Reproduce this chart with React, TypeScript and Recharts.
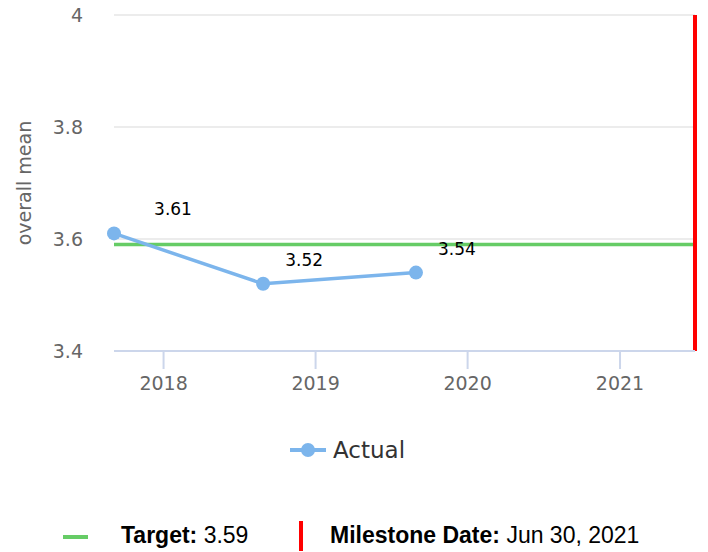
import React from "react";
import { LineChart, Line, XAxis, YAxis, CartesianGrid, ReferenceLine, LabelList, Label } from "recharts";

// chart data
const dates = ["2017-09-04", "2018-08-28", "2019-08-30"];
const actual = [3.61, 3.52, 3.54];
const yTicks = [3.4, 3.6, 3.8, 4];
const tickYears = [2018, 2019, 2020, 2021];
const target = 3.59;
const startDate = "2017-09-04";
const milestoneDate = "2021-06-30";
const milestoneText = "Jun 30, 2021";

const labelDx = [59, 41, 41];

const BLUE = "#7cb5ec";
const GREEN = "#66cc66";
const AXIS = "#ccd6eb";
const CHART_FONT = "'DejaVu Sans', Verdana, sans-serif";

const data = dates.map((d, i) => ({ t: Date.parse(d), actual: actual[i] }));

function PointLabel(props: any) {
  const { x, y, value, index } = props;
  return (
    <text x={x + labelDx[index]} y={y - 18} textAnchor="middle" fontSize={17} fill="#000" fontFamily={CHART_FONT}>
      {value}
    </text>
  );
}

function AxisTitle(props: any) {
  const vb = props.viewBox || { x: 0, y: 15, height: 336 };
  const cx = vb.x + 31;
  const cy = vb.y + vb.height / 2;
  return (
    <text x={cx} y={cy} transform={`rotate(-90 ${cx} ${cy})`} textAnchor="middle" fontSize={19} fill="#666" fontFamily={CHART_FONT}>
      overall mean
    </text>
  );
}

export default function App() {
  return (
    <div style={{ position: "absolute", left: 0, top: 0, width: 708, height: 552, background: "#fff" }}>
      <LineChart width={708} height={420} data={data} margin={{ top: 15, right: 13, left: 0, bottom: 19 }}>
        <CartesianGrid vertical={false} stroke="#e6e6e6" strokeWidth={1.5} />
        <XAxis
          dataKey="t"
          type="number"
          scale="time"
          domain={[Date.parse(startDate), Date.parse(milestoneDate)]}
          ticks={tickYears.map((y) => Date.UTC(y, 0, 1))}
          tickFormatter={(v) => String(new Date(v).getUTCFullYear())}
          height={50}
          tickSize={18}
          tickMargin={8}
          axisLine={{ stroke: AXIS, strokeWidth: 2 }}
          tickLine={{ stroke: AXIS, strokeWidth: 2 }}
          tick={{ fill: "#666", fontSize: 19, fontFamily: CHART_FONT }}
        />
        <YAxis
          domain={[3.4, 4]}
          ticks={yTicks}
          width={114}
          tickSize={0}
          tickMargin={31}
          axisLine={false}
          tickLine={false}
          tick={{ fill: "#666", fontSize: 19, fontFamily: CHART_FONT }}
        >
          <Label content={<AxisTitle />} />
        </YAxis>
        <ReferenceLine y={target} stroke={GREEN} strokeWidth={3.5} />
        <ReferenceLine x={Date.parse(milestoneDate)} stroke="#ff0000" strokeWidth={4} />
        <Line
          dataKey="actual"
          type="linear"
          stroke={BLUE}
          strokeWidth={3.5}
          dot={{ r: 7, fill: BLUE, stroke: BLUE, strokeWidth: 0, clipDot: false }}
          isAnimationActive={false}
        >
          <LabelList dataKey="actual" content={<PointLabel />} />
        </Line>
      </LineChart>

      {/* series legend */}
      <div style={{ position: "absolute", left: 290, top: 436, height: 28, display: "flex", alignItems: "center" }}>
        <svg width={36} height={16}>
          <line x1={0} y1={8} x2={36} y2={8} stroke={BLUE} strokeWidth={4} />
          <circle cx={18} cy={8} r={7} fill={BLUE} />
        </svg>
        <span style={{ marginLeft: 7, fontSize: 23, color: "#333", fontFamily: CHART_FONT }}>Actual</span>
      </div>

      {/* target / milestone legend */}
      <div style={{ position: "absolute", left: 63, top: 535, width: 25, height: 4, background: GREEN }} />
      <div style={{ position: "absolute", left: 121, top: 521, fontSize: 23, lineHeight: "28px", color: "#000", fontFamily: "'Liberation Sans', Arial, sans-serif" }}>
        <b>Target:</b> {target}
      </div>
      <div style={{ position: "absolute", left: 299, top: 521, width: 4, height: 30, background: "#ff0000" }} />
      <div style={{ position: "absolute", left: 330, top: 521, fontSize: 23, lineHeight: "28px", color: "#000", fontFamily: "'Liberation Sans', Arial, sans-serif" }}>
        <b>Milestone Date:</b> {milestoneText}
      </div>
    </div>
  );
}
